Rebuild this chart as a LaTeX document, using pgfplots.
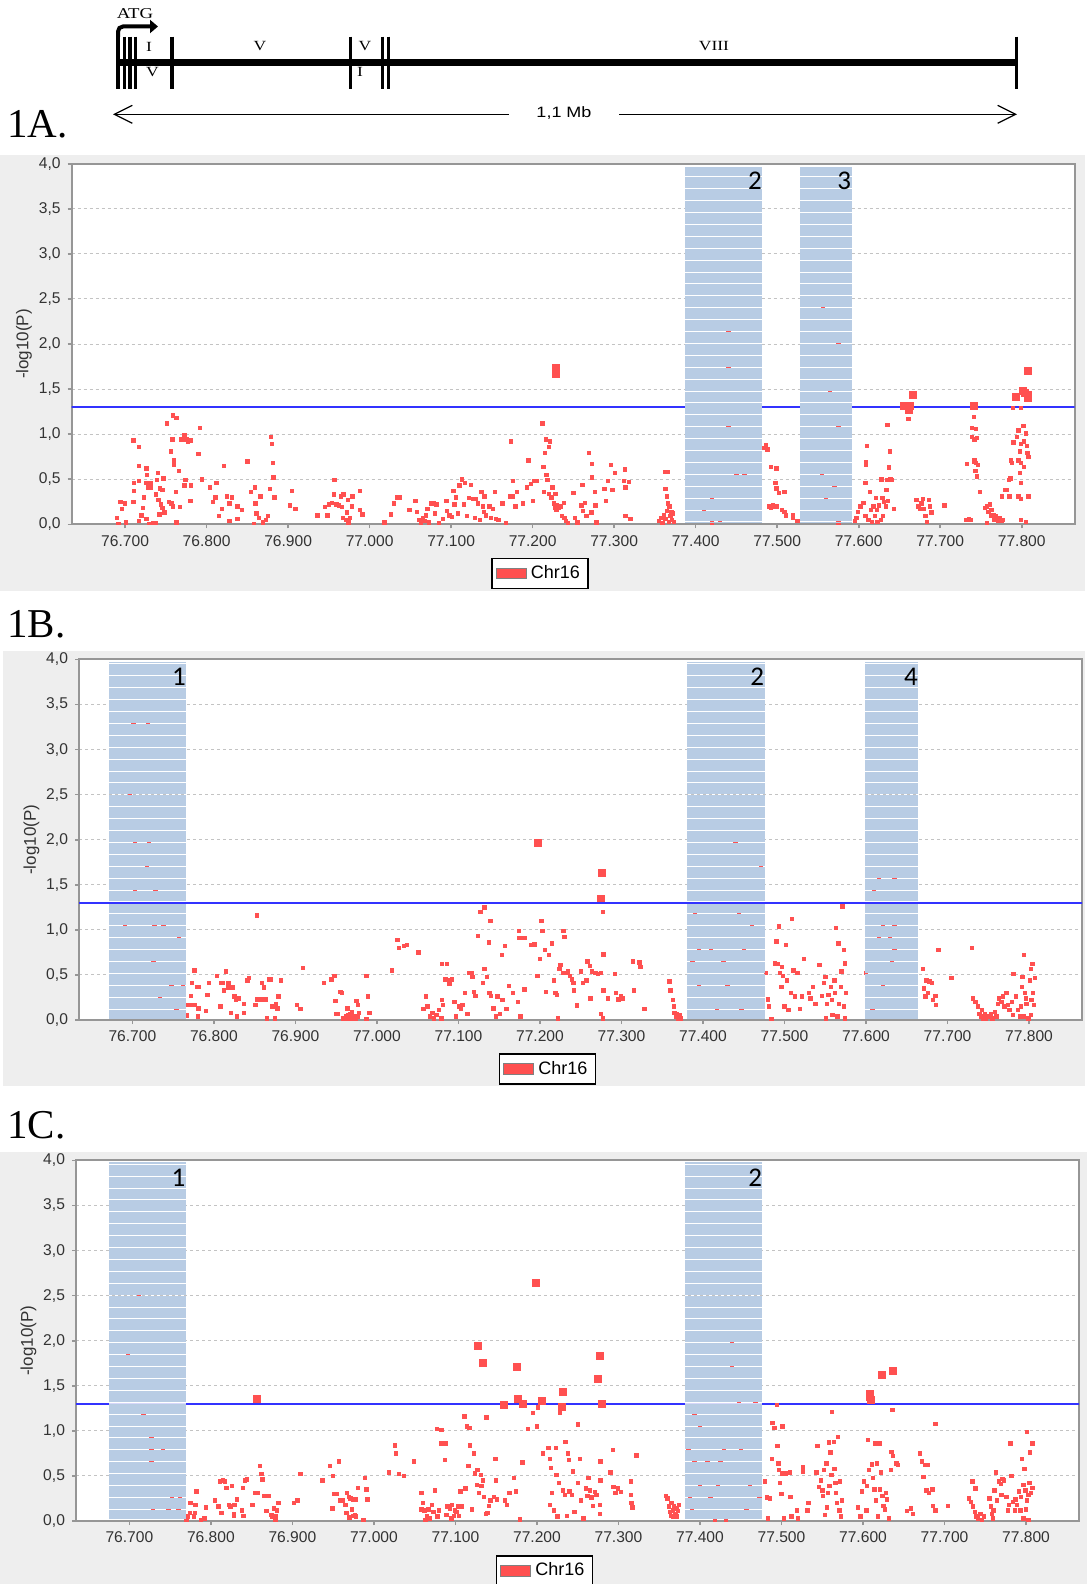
\documentclass[border=0pt]{standalone}
\usepackage{fontspec}
\setmainfont{Liberation Sans}
\newfontfamily\tnr{Liberation Serif}
\newfontfamily\calib{Carlito}
\usepackage{pgfplots}
\pgfplotsset{compat=1.18}
\usetikzlibrary{arrows.meta}

\definecolor{ptred}{RGB}{255,80,80}
\definecolor{regblue}{RGB}{184,204,228}
\definecolor{panelgray}{RGB}{238,238,238}
\definecolor{axgray}{RGB}{150,150,150}
\definecolor{gridgray}{RGB}{195,195,195}
\definecolor{thrblue}{RGB}{50,50,255}
\definecolor{thrpale}{RGB}{215,215,250}

\pgfplotsset{manh/.style={
  clip marker paths=true,
  scale only axis, width=501.5pt, height=180.3pt,
  xmin=76.6345, xmax=77.865, ymin=0, ymax=4,
  axis background/.style={fill=white},
  axis line style={axgray, line width=1pt},
  tick style={axgray, line width=0.8pt},
  major tick length=2pt, tick align=outside, tick pos=left,
  xtick={76.7,76.8,76.9,77.0,77.1,77.2,77.3,77.4,77.5,77.6,77.7,77.8},
  xticklabels={76.700,76.800,76.900,77.000,77.100,77.200,77.300,77.400,77.500,77.600,77.700,77.800},
  ytick={0,0.5,1,1.5,2,2.5,3,3.5,4},
  yticklabels={{0,0},{0,5},{1,0},{1,5},{2,0},{2,5},{3,0},{3,5},{4,0}},
  ymajorgrids, grid style={gridgray, line width=0.5pt, dash pattern=on 1.6pt off 1.4pt},
  tick label style={font=\fontsize{7.8}{9}\selectfont, text=black!80},
  ylabel={-log10(P)},
  ylabel style={font=\fontsize{8.5}{10}\selectfont, text=black!80, at={(axis description cs:-0.0475,0.5)}, anchor=center},
  legend style={at={(axis description cs:0.467,-0.136)}, anchor=center, draw=black, line width=0.75pt,
    font=\fontsize{9}{10}\selectfont, inner xsep=2pt, inner ysep=1.5pt},
}}

% shaded region, drawn after the points: x1, x2, bottom, top, first white line
\newcommand\region[5]{%
  \fill[regblue] (axis cs:#1,#3) rectangle (axis cs:#2,{#5-0.0055});
  \pgfplotsinvokeforeach{0,...,28}{\fill[regblue] (axis cs:#1,{#5+##1*0.132+0.0055}) rectangle (axis cs:#2,{#5+(##1+1)*0.132-0.0055});}
  \fill[regblue] (axis cs:#1,{#5+29*0.132+0.0055}) rectangle (axis cs:#2,#4);
}
\newcommand\regnum[2]{\node[anchor=base east, inner sep=0pt, font=\calib\fontsize{13.5}{14}\selectfont] at (axis cs:#1,3.71) {#2};}

\begin{document}
\begin{tikzpicture}
\path[use as bounding box] (0,0) rectangle (543.5pt,-792pt);

\begin{scope}[x=0.5pt,y=-0.5pt]
  \fill[panelgray] (0,155) rectangle (1085,591);
  \fill[panelgray] (3,651) rectangle (1085,1086);
  \fill[panelgray] (0,1152) rectangle (1087,1584);
  % gene structure
  \begin{scope}[font=\tnr\fontsize{7}{8}\selectfont]
    \node[xscale=1.25] at (149,46.7) {I};
    \node[xscale=1.25] at (260,46) {V};
    \node[xscale=1.25] at (365,46) {V};
    \node[xscale=1.25] at (714,46) {VIII};
    \node[xscale=1.25] at (152.5,72) {V};
    \node[xscale=1.25] at (360,72) {I};
    \node[xscale=1.25, font=\tnr\fontsize{7.5}{8}\selectfont] at (135,14) {ATG};
  \end{scope}
  \draw[line width=3.35pt] (116.4,62.7) -- (1016.6,62.7);
  \foreach \xx in {118,124.3,129.9,135.2,172,350.5}
    \draw[line width=1.7pt] (\xx,36.7) -- (\xx,89.3);
  \foreach \xx in {382.5,388.5,1016.6}
    \draw[line width=1.7pt] (\xx,36.7) -- (\xx,89.3);
  \draw[line width=2pt, rounded corners=2.5pt, -{Triangle[length=4pt,width=6.5pt]}] (118,37) -- (118,26.5) -- (158,26.5);
  \draw[line width=0.6pt, {Straight Barb[length=9pt,width=9pt]}-] (113,114.3) -- (509,114.3);
  \draw[line width=0.6pt, -{Straight Barb[length=9pt,width=9pt]}] (619,114.3) -- (1017,114.3);
  \node[xscale=1.2, font=\fontsize{7.5}{8}\selectfont] at (564,113) {1,1 Mb};
  \node[anchor=base west, inner sep=0pt, font=\tnr\fontsize{20.5}{22}\selectfont] at (7,138) {1A.};
  \node[anchor=base west, inner sep=0pt, font=\tnr\fontsize{20.5}{22}\selectfont] at (7,637) {1B.};
  \node[anchor=base west, inner sep=0pt, font=\tnr\fontsize{20.5}{22}\selectfont] at (7,1138) {1C.};
\end{scope}

% ---------------- 1A ----------------
\begin{axis}[manh, at={(35.85pt,-262.15pt)}, anchor=south west]
\addplot[forget plot, thrblue, line width=1pt] coordinates {(76.6,1.301) (77.9,1.301)};
\addplot[only marks, mark=square*, mark size=0.85pt, color=ptred,
  legend image code/.code={\draw[fill=ptred, draw=gray, line width=0.4pt] (0pt,-2.6pt) rectangle (15pt,2.6pt);}]
coordinates {
(76.690,0.07) (76.694,0.25) (76.696,0.17) (76.700,0.23) (76.701,0.02) (76.692,0.0) (76.710,0.93) (76.717,0.86)
(76.710,0.25) (76.711,0.37) (76.711,0.46) (76.717,0.48) (76.717,0.65) (76.717,0.04) (76.720,0.10) (76.722,0.18)
(76.723,0.30) (76.726,0.62) (76.727,0.55) (76.726,0.46) (76.728,0.41) (76.731,0.46) (76.732,0.41) (76.726,0.06)
(76.729,0.0) (76.734,0.01) (76.738,0.01) (76.740,0.57) (76.739,0.49) (76.738,0.33) (76.741,0.27) (76.743,0.40)
(76.746,0.38) (76.747,0.51) (76.744,0.22) (76.746,0.18) (76.748,0.13) (76.742,0.11) (76.751,1.12) (76.754,0.25)
(76.756,0.81) (76.757,0.23) (76.758,0.94) (76.759,0.20) (76.760,0.66) (76.760,0.71) (76.759,1.21) (76.763,1.18)
(76.762,0.36) (76.763,0.02) (76.766,0.59) (76.767,0.19) (76.769,0.94) (76.773,0.99) (76.775,0.94) (76.777,0.92)
(76.781,0.93) (76.774,0.49) (76.773,0.43) (76.781,0.43) (76.780,0.26) (76.790,0.78) (76.792,1.07) (76.794,0.50)
(76.804,0.41) (76.808,0.25) (76.811,0.30) (76.812,0.46) (76.815,0.09) (76.819,0.17) (76.821,0.65) (76.825,0.31)
(76.828,0.04) (76.831,0.30) (76.828,0.23) (76.838,0.06) (76.838,0.20) (76.843,0.16) (76.850,0.70) (76.854,0.36)
(76.859,0.41) (76.860,0.23) (76.858,0.0) (76.861,0.12) (76.864,0.07) (76.866,0.31) (76.869,0.02) (76.873,0.05)
(76.875,0.09) (76.878,0.39) (76.879,0.97) (76.880,0.89) (76.881,0.68) (76.882,0.52) (76.883,0.30) (76.902,0.21)
(76.905,0.37) (76.909,0.17) (76.936,0.10) (76.945,0.19) (76.948,0.10) (76.950,0.22) (76.954,0.24) (76.957,0.49)
(76.956,0.33) (76.959,0.22) (76.962,0.21) (76.965,0.31) (76.966,0.19) (76.968,0.33) (76.967,0.07) (76.971,0.05)
(76.972,0.13) (76.973,0.27) (76.974,0.02) (76.976,0.07) (76.978,0.20) (76.979,0.31) (76.988,0.37) (76.988,0.16)
(76.991,0.11) (77.018,0.02) (77.026,0.11) (77.030,0.23) (77.034,0.30) (77.037,0.30) (77.049,0.16) (77.056,0.26)
(77.058,0.14) (77.061,0.05) (77.063,0.02) (77.065,0.07) (77.067,0.04) (77.069,0.10) (77.071,0.17) (77.073,0.02)
(77.076,0.23) (77.078,0.24) (77.080,0.12) (77.082,0.22) (77.085,0.01) (77.090,0.06) (77.094,0.26) (77.095,0.15)
(77.098,0.10) (77.101,0.08) (77.103,0.37) (77.104,0.22) (77.106,0.30) (77.108,0.12) (77.110,0.43) (77.113,0.50)
(77.116,0.22) (77.117,0.46) (77.119,0.09) (77.122,0.29) (77.124,0.44) (77.127,0.28) (77.129,0.07) (77.130,0.28)
(77.133,0.23) (77.135,0.05) (77.137,0.36) (77.139,0.20) (77.140,0.14) (77.141,0.31) (77.143,0.10) (77.147,0.20)
(77.149,0.07) (77.151,0.17) (77.154,0.36) (77.155,0.06) (77.158,0.05) (77.163,0.23) (77.167,0.01) (77.172,0.31)
(77.173,0.92) (77.176,0.31) (77.176,0.48) (77.179,0.20) (77.181,0.36) (77.188,0.23) (77.193,0.41) (77.195,0.71)
(77.198,0.45) (77.200,0.26) (77.202,0.48) (77.205,0.48) (77.212,1.12) (77.213,0.64) (77.214,0.36) (77.215,0.79)
(77.216,0.94) (77.217,0.55) (77.218,0.49) (77.220,0.86) (77.220,0.34) (77.221,0.92) (77.223,0.30) (77.224,0.41)
(77.226,0.23) (77.227,0.18) (77.228,0.34) (77.229,0.16) (77.229,0.21) (77.232,0.18) (77.234,0.20) (77.236,0.09)
(77.238,0.24) (77.239,0.07) (77.241,0.04) (77.243,0.01) (77.250,0.35) (77.252,0.07) (77.255,0.02) (77.260,0.21)
(77.261,0.44) (77.262,0.15) (77.264,0.24) (77.266,0.09) (77.269,0.79) (77.272,0.13) (77.273,0.67) (77.273,0.52)
(77.276,0.36) (77.277,0.21) (77.278,0.02) (77.288,0.39) (77.290,0.26) (77.292,0.48) (77.296,0.66) (77.298,0.38)
(77.301,0.57) (77.312,0.48) (77.314,0.41) (77.313,0.61) (77.318,0.47) (77.314,0.09) (77.320,0.06) (77.355,0.04)
(77.357,0.07) (77.359,0.01) (77.361,0.10) (77.363,0.06) (77.365,0.15) (77.367,0.03) (77.369,0.09) (77.371,0.05)
(77.372,0.12) (77.363,0.58) (77.366,0.58) (77.363,0.39) (77.365,0.31) (77.366,0.23) (77.368,0.20) (77.370,0.13)
(77.373,0.03)
(77.44,2.14) (77.44,1.75) (77.44,1.08) (77.42,0.3) (77.41,0.15) (77.43,0.05) (77.45,0.55) (77.46,0.55) (77.395,0.5) (77.42,0.02)
(77.556,2.4) (77.56,2.3) (77.575,2.01) (77.565,1.49) (77.575,1.07) (77.56,0.9) (77.57,0.75) (77.58,0.6) (77.555,0.55)
(77.57,0.4) (77.56,0.3) (77.55,0.2) (77.575,0.02)
(77.482,0.85) (77.486,0.88) (77.488,0.83) (77.492,0.64) (77.499,0.62) (77.498,0.46) (77.499,0.40) (77.502,0.35)
(77.495,0.21) (77.490,0.20) (77.492,0.18) (77.497,0.20) (77.500,0.20) (77.506,0.16) (77.509,0.14) (77.511,0.10)
(77.519,0.10) (77.519,0.07) (77.525,0.04) (77.509,0.36)
(77.595,0.04) (77.597,0.07) (77.599,0.14) (77.602,0.20) (77.606,0.24) (77.608,0.09) (77.608,0.46) (77.609,0.66)
(77.609,0.69) (77.610,0.87) (77.612,0.05) (77.614,0.36) (77.615,0.16) (77.616,0.03) (77.618,0.20) (77.620,0.09)
(77.621,0.29) (77.622,0.16) (77.623,0.03) (77.625,0.21) (77.627,0.05) (77.628,0.50) (77.629,0.29) (77.631,0.25)
(77.633,0.20) (77.634,0.38) (77.635,0.49) (77.636,0.26) (77.637,0.63) (77.638,0.81) (77.639,0.50) (77.641,0.49)
(77.643,0.17) (77.635,1.10) (77.630,0.09) (77.661,1.17) (77.671,0.27) (77.673,0.20) (77.675,0.17) (77.677,0.23)
(77.679,0.28) (77.680,0.17) (77.682,0.09) (77.686,0.27) (77.687,0.20) (77.689,0.13) (77.684,0.03) (77.705,0.21)
(77.732,0.05) (77.735,0.06) (77.738,0.05) (77.733,0.67) (77.739,1.07) (77.741,1.19) (77.739,0.97) (77.742,0.94)
(77.744,1.06) (77.745,0.96) (77.742,0.71) (77.744,0.68) (77.746,0.66) (77.741,0.70) (77.743,0.59) (77.745,0.53)
(77.749,0.36) (77.755,0.18) (77.757,0.20) (77.759,0.14) (77.761,0.22) (77.762,0.09) (77.763,0.16) (77.765,0.10)
(77.766,0.05) (77.768,0.09) (77.769,0.05) (77.771,0.04) (77.773,0.07) (77.775,0.04) (77.777,0.05) (77.757,0.01)
(77.776,0.31) (77.779,0.38) (77.781,0.38) (77.784,0.49) (77.786,0.51) (77.785,0.31) (77.787,0.71) (77.788,0.68)
(77.790,0.91) (77.794,0.97) (77.796,1.04) (77.798,0.81) (77.799,0.89) (77.802,1.09) (77.803,0.92) (77.805,1.01)
(77.806,0.87) (77.807,0.79) (77.808,0.75) (77.796,0.71) (77.799,0.68) (77.803,0.64) (77.798,0.57) (77.799,0.46)
(77.796,0.31) (77.799,0.28) (77.808,0.31) (77.805,0.03) (77.799,0.05) (77.789,1.29) (77.799,1.29)
};
\addlegendentry{Chr16}
\addplot[forget plot, only marks, mark=square*, mark size=1.75pt, color=ptred] coordinates {
(77.229,1.74) (77.229,1.67) (77.655,1.31) (77.659,1.31) (77.663,1.31) (77.666,1.43) (77.661,1.27) (77.741,1.31)
(77.793,1.41) (77.801,1.48) (77.804,1.46) (77.807,1.40) (77.808,1.44) (77.808,1.70)
};
\region{77.387}{77.4815}{0.012}{3.963}{0.026}
\region{77.528}{77.592}{0.012}{3.963}{0.026}
\regnum{77.4815}{2}
\regnum{77.591}{3}
\end{axis}

% ---------------- 1B ----------------
\begin{axis}[manh, at={(39.5pt,-510pt)}, anchor=south west]
\addplot[only marks, mark=square*, mark size=0.85pt, color=ptred,
  legend image code/.code={\draw[fill=ptred, draw=gray, line width=0.4pt] (0pt,-2.6pt) rectangle (15pt,2.6pt);}]
coordinates {
(76.766,0.17) (76.770,0.17) (76.772,0.27) (76.773,0.41) (76.776,0.55) (76.776,0.17) (76.779,0.37) (76.781,0.37)
(76.781,0.13) (76.780,0.04) (76.790,0.10) (76.792,0.28) (76.794,0.41) (76.767,0.05) (76.804,0.49) (76.808,0.15)
(76.809,0.41) (76.811,0.41) (76.812,0.33) (76.815,0.54) (76.818,0.41) (76.818,0.36) (76.821,0.08) (76.823,0.36)
(76.825,0.26) (76.827,0.23) (76.828,0.04) (76.830,0.24) (76.837,0.18) (76.837,0.08) (76.841,0.44) (76.843,0.47)
(76.851,0.17) (76.853,0.23) (76.857,0.23) (76.859,0.41) (76.861,0.36) (76.853,1.16) (76.863,0.23) (76.865,0.02)
(76.868,0.45) (76.870,0.45) (76.872,0.15) (76.875,0.02) (76.876,0.18) (76.878,0.13) (76.879,0.26) (76.882,0.44)
(76.902,0.17) (76.906,0.12) (76.909,0.58) (76.935,0.41) (76.944,0.45) (76.948,0.49) (76.949,0.21) (76.950,0.07)
(76.952,0.07) (76.955,0.31) (76.957,0.30) (76.959,0.02) (76.962,0.04) (76.964,0.13) (76.965,0.06) (76.967,0.07)
(76.969,0.09) (76.970,0.04) (76.972,0.04) (76.974,0.02) (76.976,0.04) (76.975,0.21) (76.977,0.17) (76.978,0.08)
(76.987,0.49) (76.989,0.26) (76.991,0.08) (76.987,0.01) (76.966,0.01) (76.968,0.02) (76.971,0.01) (76.963,0.01)
(77.018,0.55) (77.025,0.89) (77.027,0.80)
(77.033,0.82) (77.037,0.83) (77.051,0.75) (77.057,0.12) (77.060,0.26) (77.062,0.15) (77.065,0.04) (77.068,0.08)
(77.070,0.02) (77.073,0.06) (77.076,0.11) (77.079,0.02) (77.080,0.22) (77.081,0.17) (77.080,0.62) (77.086,0.62)
(77.084,0.45) (77.088,0.44) (77.089,0.40) (77.092,0.45) (77.095,0.20) (77.097,0.04) (77.101,0.15) (77.103,0.12)
(77.105,0.17) (77.108,0.30) (77.111,0.07) (77.113,0.52) (77.116,0.52) (77.117,0.48) (77.119,0.31) (77.121,0.27)
(77.124,0.93) (77.127,1.20) (77.130,0.41) (77.132,1.25) (77.132,0.57) (77.135,0.48) (77.137,0.86) (77.138,0.30)
(77.139,1.10) (77.140,0.27) (77.143,0.13) (77.146,0.04) (77.148,0.26) (77.151,0.07) (77.153,0.72) (77.154,0.22)
(77.157,0.82) (77.159,0.12) (77.162,0.38) (77.167,0.30) (77.173,0.20) (77.174,0.99) (77.176,0.04) (77.175,0.91)
(77.181,0.91) (77.181,0.34) (77.189,0.83) (77.193,0.84) (77.197,0.49) (77.200,0.68) (77.202,1.10) (77.203,0.99)
(77.206,0.78) (77.207,0.31) (77.211,0.72) (77.215,0.85) (77.217,0.44) (77.219,0.30) (77.221,0.28) (77.222,0.02)
(77.224,0.57) (77.225,0.61) (77.228,0.52) (77.229,0.99) (77.230,0.92) (77.232,0.52) (77.234,0.54) (77.237,0.49)
(77.239,0.45) (77.241,0.41) (77.242,0.33) (77.245,0.16) (77.250,0.54) (77.253,0.41) (77.257,0.44) (77.258,0.65)
(77.261,0.60) (77.262,0.24) (77.264,0.54) (77.268,0.52) (77.271,0.51) (77.275,0.52) (77.277,1.20) (77.278,0.73)
(77.278,0.33) (77.275,0.07) (77.277,0.02) (77.283,0.24) (77.292,0.51) (77.293,0.30) (77.296,0.23) (77.299,0.26)
(77.302,0.24) (77.314,0.65) (77.315,0.33) (77.322,0.64) (77.323,0.59) (77.328,0.12) (77.359,0.43) (77.360,0.33)
(77.363,0.22) (77.364,0.15) (77.365,0.08) (77.367,0.04) (77.369,0.02) (77.371,0.04) (77.373,0.02) (77.368,0.07)
(77.372,0.06)
(76.701,3.28) (76.719,3.28) (76.697,2.49) (76.703,1.96) (76.720,1.96) (76.718,1.70) (76.703,1.44) (76.728,1.44)
(76.691,1.04) (76.727,1.04) (76.738,1.04) (76.757,0.91) (76.726,0.64) (76.748,0.37) (76.762,0.37) (76.734,0.24)
(76.754,0.12)
(77.44,1.96) (77.471,1.69) (77.39,1.17) (77.444,1.17) (77.46,1.04) (77.395,0.78) (77.41,0.78) (77.45,0.78)
(77.387,0.64) (77.425,0.64) (77.395,0.37) (77.43,0.37) (77.417,0.12) (77.447,0.12)
(77.477,0.52) (77.480,0.23) (77.481,0.15) (77.484,0.01) (77.488,0.63) (77.490,0.87) (77.492,0.62) (77.493,1.04)
(77.494,0.52) (77.496,0.37) (77.497,0.59) (77.498,0.49) (77.500,0.15) (77.502,0.83) (77.503,0.44) (77.505,0.11)
(77.508,0.30) (77.509,1.12) (77.511,0.55) (77.513,0.26) (77.516,0.52) (77.519,0.12) (77.521,0.26) (77.524,0.68)
(77.530,0.30) (77.532,0.24) (77.535,0.37) (77.538,0.18) (77.543,0.61) (77.546,0.27) (77.548,0.41) (77.550,0.48)
(77.551,0.02) (77.552,0.18) (77.554,0.28) (77.557,0.37) (77.558,0.22) (77.559,0.06) (77.561,0.44) (77.562,0.30)
(77.563,1.02) (77.565,0.04) (77.566,0.85) (77.567,0.18) (77.569,0.37) (77.570,0.54) (77.571,1.26) (77.573,0.78)
(77.574,0.63) (77.575,0.30) (77.574,0.02) (77.573,0.15)
(77.616,1.56) (77.635,1.56) (77.61,1.44) (77.621,1.04) (77.635,1.04) (77.616,0.91) (77.629,0.91) (77.635,0.78)
(77.632,0.64) (77.621,0.37) (77.608,0.12) (77.60,0.52)
(77.670,0.57) (77.671,0.35) (77.673,0.26) (77.674,0.44) (77.676,0.30) (77.678,0.43) (77.681,0.41) (77.682,0.22)
(77.685,0.27) (77.686,0.17) (77.689,0.78) (77.705,0.47) (77.730,0.80) (77.731,0.24) (77.734,0.20) (77.737,0.15)
(77.739,0.07) (77.741,0.04) (77.742,0.11) (77.744,0.02) (77.746,0.07) (77.747,0.02) (77.750,0.04) (77.753,0.07)
(77.755,0.02) (77.758,0.09) (77.760,0.04) (77.762,0.18) (77.763,0.24) (77.766,0.20) (77.768,0.26) (77.770,0.15)
(77.772,0.30) (77.774,0.17) (77.776,0.11) (77.779,0.20) (77.780,0.06) (77.781,0.51) (77.784,0.26) (77.786,0.11)
(77.789,0.04) (77.790,0.15) (77.791,0.37) (77.792,0.48) (77.794,0.72) (77.795,0.30) (77.796,0.24) (77.797,0.18)
(77.799,0.02) (77.801,0.44) (77.802,0.57) (77.803,0.22) (77.804,0.62) (77.805,0.30) (77.806,0.17) (77.807,0.47)
(77.802,0.06) (77.794,0.04)
};
\addlegendentry{Chr16}
\addplot[forget plot, only marks, mark=square*, mark size=1.75pt, color=ptred] coordinates {
(77.198,1.97) (77.275,1.34) (77.276,1.63)
};
\region{76.671}{76.766}{0.012}{3.97}{0.122}
\region{77.381}{77.4755}{0.012}{3.97}{0.122}
\region{77.599}{77.664}{0.012}{3.97}{0.122}
\addplot[forget plot, thrblue, line width=1pt] coordinates {(76.6,1.301) (77.9,1.301)};
\regnum{76.766}{1}
\regnum{77.4755}{2}
\regnum{77.664}{4}
\end{axis}

% ---------------- 1C ----------------
\begin{axis}[manh, at={(38pt,-760.5pt)}, anchor=south west, legend style={at={(axis description cs:0.467,-0.1385)}}]
\addplot[forget plot, thrblue, line width=1pt] coordinates {(76.6,1.301) (77.9,1.301)};
\addplot[only marks, mark=square*, mark size=0.85pt, color=ptred,
  legend image code/.code={\draw[fill=ptred, draw=gray, line width=0.4pt] (0pt,-2.6pt) rectangle (15pt,2.6pt);}]
coordinates {
(76.770,0.01) (76.772,0.05) (76.774,0.09) (76.775,0.20) (76.779,0.05) (76.780,0.09) (76.781,0.18) (76.782,0.33)
(76.788,0.01) (76.792,0.03) (76.794,0.15) (76.805,0.23) (76.809,0.16) (76.811,0.44) (76.813,0.09) (76.815,0.45)
(76.817,0.44) (76.819,0.37) (76.822,0.18) (76.824,0.16) (76.826,0.39) (76.828,0.08) (76.828,0.06) (76.829,0.18)
(76.832,0.24) (76.838,0.12) (76.839,0.37) (76.840,0.06) (76.842,0.45) (76.844,0.46) (76.851,0.18) (76.854,0.31)
(76.858,0.31) (76.860,0.61) (76.862,0.52) (76.863,0.46) (76.865,0.28) (76.868,0.11) (76.869,0.28) (76.871,0.28)
(76.874,0.07) (76.875,0.05) (76.877,0.14) (76.879,0.02) (76.880,0.06) (76.881,0.12) (76.883,0.20) (76.902,0.20)
(76.906,0.23) (76.910,0.52) (76.937,0.45) (76.946,0.61) (76.949,0.14) (76.950,0.50) (76.951,0.30) (76.954,0.30)
(76.957,0.66) (76.958,0.23) (76.960,0.22) (76.962,0.23) (76.965,0.18) (76.966,0.09) (76.967,0.31) (76.969,0.27)
(76.970,0.04) (76.971,0.25) (76.973,0.13) (76.974,0.06) (76.975,0.24) (76.977,0.07) (76.978,0.24) (76.980,0.37)
(76.978,0.05) (76.987,0.01) (76.989,0.48) (76.991,0.35) (76.992,0.24) (77.018,0.54) (77.026,0.84) (77.027,0.75)
(77.031,0.52) (77.037,0.50) (77.049,0.66) (77.058,0.31) (77.058,0.13) (77.060,0.20) (77.062,0.12) (77.063,0.01)
(77.065,0.05) (77.067,0.13) (77.069,0.03) (77.071,0.18) (77.073,0.10) (77.075,0.34) (77.077,1.02) (77.078,0.05)
(77.080,0.12) (77.083,1.01) (77.083,0.86) (77.085,0.86) (77.087,0.68) (77.088,0.86) (77.089,0.07) (77.090,0.16)
(77.093,0.14) (77.095,0.03) (77.096,0.18) (77.098,0.06) (77.099,0.12) (77.101,0.10) (77.103,0.16) (77.104,0.06)
(77.106,0.33) (77.108,0.16) (77.111,1.16) (77.112,0.36) (77.114,1.05) (77.116,0.61) (77.117,1.03) (77.118,0.84)
(77.120,0.13) (77.123,0.75) (77.124,0.53) (77.126,0.40) (77.127,0.57) (77.129,0.31) (77.131,0.51) (77.132,0.39)
(77.134,0.45) (77.135,0.27) (77.137,0.08) (77.138,1.15) (77.139,0.09) (77.141,0.17) (77.143,0.23) (77.147,0.27)
(77.149,0.69) (77.150,0.45) (77.151,0.24)
(77.161,0.23) (77.163,0.18) (77.166,0.31) (77.172,0.48) (77.174,0.33) (77.179,0.02) (77.182,0.65) (77.189,1.02)
(77.195,1.20) (77.200,1.05) (77.201,1.26) (77.207,0.75) (77.214,0.81) (77.216,0.69) (77.217,0.59) (77.218,0.31)
(77.216,0.18) (77.221,0.12) (77.223,0.81) (77.224,0.51) (77.225,0.05) (77.227,0.42) (77.228,1.20) (77.232,0.34)
(77.234,0.29) (77.235,0.88) (77.237,0.06) (77.238,0.75) (77.239,0.68) (77.240,0.33) (77.243,0.29) (77.244,0.55)
(77.246,0.10) (77.250,0.42) (77.253,0.69) (77.254,0.23) (77.250,1.07) (77.257,0.03) (77.260,0.36) (77.262,0.28)
(77.263,0.48) (77.265,0.34) (77.267,0.26) (77.269,0.17) (77.271,0.32) (77.273,0.29) (77.277,0.18) (77.278,0.66)
(77.278,0.45) (77.277,0.08) (77.290,0.54) (77.293,0.79) (77.294,0.38) (77.296,0.31) (77.299,0.36) (77.303,0.32)
(77.315,0.44) (77.315,0.29) (77.316,0.20) (77.317,0.15) (77.322,0.73) (77.358,0.28) (77.360,0.25) (77.362,0.16)
(77.363,0.10) (77.365,0.20) (77.367,0.12) (77.367,0.05) (77.368,0.17) (77.370,0.08) (77.371,0.14) (77.372,0.05)
(77.373,0.11) (77.374,0.18) (77.365,0.06)
(76.712,2.50) (76.698,1.85) (76.717,1.18) (76.727,0.92) (76.727,0.78) (76.741,0.78) (76.727,0.66) (76.752,0.26)
(76.762,0.26) (76.729,0.13) (76.748,0.13) (76.760,0.13)
(77.439,1.98) (77.439,1.72) (77.448,1.31) (77.468,1.31) (77.393,1.18) (77.400,1.05) (77.386,0.79) (77.429,0.79)
(77.450,0.79) (77.393,0.66) (77.409,0.66) (77.425,0.66) (77.400,0.40) (77.422,0.40) (77.461,0.40) (77.388,0.26)
(77.413,0.26) (77.473,0.26) (77.390,0.13) (77.457,0.13) (77.418,0.01) (77.432,0.01)
(77.480,0.44) (77.482,0.26) (77.483,0.03) (77.486,0.25) (77.488,0.69) (77.489,1.09) (77.491,1.03) (77.492,1.03)
(77.494,1.29) (77.495,0.83) (77.496,0.64) (77.497,0.57) (77.498,0.42) (77.500,0.30) (77.501,1.05) (77.501,0.53)
(77.503,0.03) (77.505,0.53) (77.510,0.54) (77.511,0.27) (77.512,0.05) (77.519,0.12) (77.520,0.03) (77.526,0.60)
(77.526,0.55) (77.532,0.12) (77.533,0.20) (77.543,0.54) (77.544,0.83) (77.546,0.38) (77.548,0.45) (77.550,0.34)
(77.551,0.28) (77.552,0.57) (77.553,0.07) (77.555,0.64) (77.556,0.15) (77.557,0.31) (77.558,0.87) (77.559,0.39)
(77.560,0.76) (77.561,0.51) (77.562,1.21) (77.564,0.88) (77.565,0.58) (77.566,0.42) (77.567,0.31) (77.568,0.20)
(77.569,0.93) (77.571,0.12) (77.572,0.44) (77.573,0.05) (77.574,0.23) (77.594,0.15) (77.597,0.05) (77.599,0.33)
(77.601,0.44) (77.604,0.12) (77.605,0.39) (77.606,0.90) (77.607,0.57) (77.611,0.63) (77.612,0.48) (77.614,0.35)
(77.615,0.86) (77.616,0.23) (77.617,0.64) (77.618,0.05) (77.620,0.86) (77.621,0.35) (77.622,0.54) (77.624,0.28)
(77.625,0.17) (77.627,0.13) (77.628,0.31) (77.629,0.24) (77.632,0.03) (77.634,0.57) (77.635,0.77) (77.636,1.23)
(77.637,0.72) (77.641,0.64) (77.643,0.62) (77.654,0.11) (77.659,0.14) (77.661,0.08) (77.670,0.75) (77.672,0.66)
(77.674,0.49) (77.676,0.62) (77.679,0.62) (77.678,0.34) (77.681,0.31) (77.685,0.35) (77.686,0.17) (77.689,1.08)
(77.689,0.12) (77.704,0.17)
(77.730,0.25) (77.732,0.21) (77.734,0.44) (77.735,0.16) (77.737,0.10) (77.738,0.36) (77.739,0.05) (77.741,0.03)
(77.744,0.08) (77.746,0.01) (77.748,0.05) (77.755,0.25) (77.757,0.16) (77.758,0.08) (77.759,0.03) (77.760,0.12)
(77.761,0.34) (77.763,0.54) (77.764,0.23) (77.767,0.44) (77.769,0.41) (77.770,0.29) (77.771,0.47) (77.773,0.45)
(77.776,0.27) (77.778,0.12) (77.779,0.18) (77.781,0.86) (77.782,0.50) (77.784,0.21) (77.786,0.12) (77.787,0.24)
(77.789,0.18) (77.791,0.33) (77.793,0.12) (77.794,0.27) (77.795,0.69) (77.797,0.40) (77.798,0.58) (77.799,0.34)
(77.800,0.13) (77.801,0.23) (77.801,0.99) (77.803,0.29) (77.804,0.42) (77.805,0.76) (77.806,0.31) (77.808,0.86)
(77.808,0.37) (77.803,0.01) (77.797,0.03)
};
\addlegendentry{Chr16}
\addplot[forget plot, only marks, mark=square*, mark size=1.75pt, color=ptred] coordinates {
(76.856,1.36) (77.128,1.94) (77.134,1.75) (77.159,1.29) (77.176,1.71) (77.177,1.36) (77.183,1.30) (77.199,2.64)
(77.206,1.33) (77.230,1.27) (77.232,1.43) (77.275,1.58) (77.277,1.83) (77.280,1.30) (77.608,1.41) (77.609,1.38)
(77.610,1.34) (77.623,1.62) (77.637,1.67)
};
\region{76.675}{76.769}{0.022}{3.98}{0.129}
\region{77.382}{77.4765}{0.022}{3.98}{0.129}
\addplot[forget plot, thrpale, line width=0.6pt] coordinates {(76.675,1.301) (76.769,1.301)};
\addplot[forget plot, thrpale, line width=0.6pt] coordinates {(77.382,1.301) (77.4765,1.301)};
\regnum{76.769}{1}
\regnum{77.4765}{2}
\end{axis}
\end{tikzpicture}
\end{document}
